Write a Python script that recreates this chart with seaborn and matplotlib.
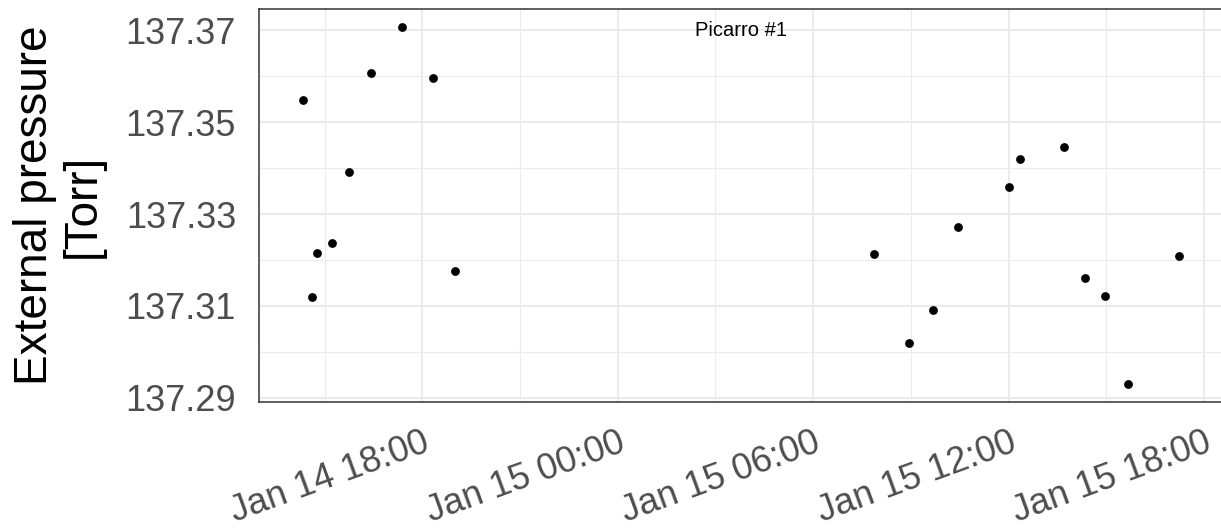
import matplotlib
matplotlib.use("Agg")
import matplotlib.pyplot as plt
import matplotlib.dates as mdates
import matplotlib.transforms as mtransforms
import pandas as pd
import seaborn as sns

# ---- data ----
times = [
    "2016-01-14 14:20", "2016-01-14 14:37", "2016-01-14 14:46", "2016-01-14 15:14",
    "2016-01-14 15:46", "2016-01-14 16:26", "2016-01-14 17:22", "2016-01-14 18:20",
    "2016-01-14 19:00",
    "2016-01-15 07:51", "2016-01-15 08:56", "2016-01-15 09:40", "2016-01-15 10:27",
    "2016-01-15 12:00", "2016-01-15 12:20", "2016-01-15 13:41", "2016-01-15 14:20",
    "2016-01-15 14:58", "2016-01-15 15:40", "2016-01-15 17:13",
]
pressure = [
    137.3548, 137.3120, 137.3215, 137.3238, 137.3391, 137.3606, 137.3707, 137.3595,
    137.3177,
    137.3214, 137.3020, 137.3091, 137.3271, 137.3358, 137.3420, 137.3445, 137.3161,
    137.3121, 137.2930, 137.3209,
]
y_ticks = [137.29, 137.31, 137.33, 137.35, 137.37]
y_minor = [137.30, 137.32, 137.34, 137.36]
panel_label = "Picarro #1"
y_title = "External pressure\n[Torr]"

df = pd.DataFrame({"time": pd.to_datetime(times), "pressure": pressure})

sns.set_theme(style="white")
plt.rcParams["font.family"] = ["Liberation Sans", "DejaVu Sans"]

W, H = 1221, 532
fig = plt.figure(figsize=(W / 100, H / 100), dpi=100)
left, right, top, bottom = 259, 1222.5, 9, 402
ax = fig.add_axes([left / W, 1 - bottom / H, (right - left) / W, (bottom - top) / H])

sns.scatterplot(data=df, x="time", y="pressure", color="black", s=40,
                linewidth=0, ax=ax, zorder=3, legend=False)

# ggplot-like 5% expansion
tmin, tmax = df["time"].min(), df["time"].max()
tpad = (tmax - tmin) * 0.05
ax.set_xlim(tmin - tpad, tmax + tpad)
pmin, pmax = min(pressure), max(pressure)
ppad = (pmax - pmin) * 0.05
ax.set_ylim(pmin - ppad, pmax + ppad)

ax.xaxis.set_major_locator(mdates.HourLocator(byhour=[0, 6, 12, 18]))
ax.xaxis.set_minor_locator(mdates.HourLocator(byhour=[3, 9, 15, 21]))
ax.xaxis.set_major_formatter(mdates.DateFormatter("%b %d %H:%M"))
ax.set_yticks(y_ticks)
ax.set_yticks(y_minor, minor=True)
ax.set_yticklabels([f"{v:.2f}" for v in y_ticks])

ax.grid(which="major", color="#EBEBEB", linewidth=1.5, zorder=0)
ax.grid(which="minor", color="#EBEBEB", linewidth=0.8, zorder=0)
ax.set_axisbelow(True)

for s in ax.spines.values():
    s.set_color("#333333")
    s.set_linewidth(1.1)

ax.tick_params(axis="both", which="major", length=8.5, width=1.1, color="#333333",
               labelsize=26, labelcolor="#4D4D4D")
ax.tick_params(axis="y", which="major", pad=8)
ax.tick_params(axis="x", which="major", pad=8)
ax.tick_params(which="minor", length=0)

for lab in ax.get_xticklabels():
    lab.set_rotation(20)
    lab.set_ha("right")
    lab.set_va("top")
    lab.set_rotation_mode("anchor")

ax.set_xlabel("")
ax.set_ylabel(y_title, fontsize=33, color="black", linespacing=1.12)
ax.yaxis.set_label_coords(-0.160, 0.5)

trans = mtransforms.blended_transform_factory(ax.transAxes, ax.transData)
ax.text(0.5, 137.37, panel_label, transform=trans, ha="center", va="center",
        fontsize=14.5, color="black")

fig.savefig("out.png", dpi=100)
